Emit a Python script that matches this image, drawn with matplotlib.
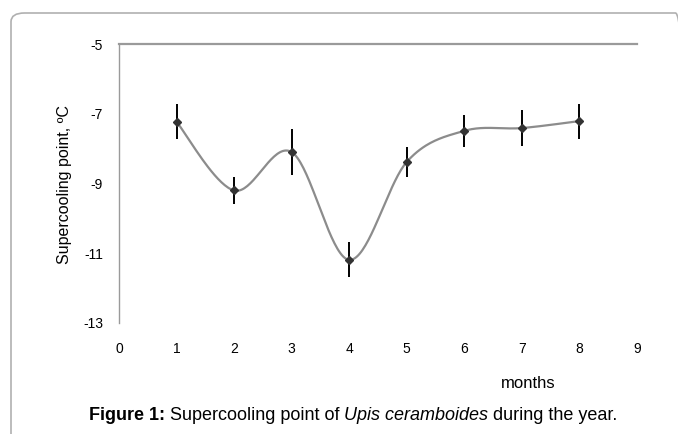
import numpy as np
import matplotlib
matplotlib.use('Agg')
import matplotlib.pyplot as plt
from matplotlib.patches import FancyBboxPatch

plt.rcParams['font.family'] = ['Liberation Sans', 'DejaVu Sans']
plt.rcParams['axes.unicode_minus'] = False

# data
months = [1, 2, 3, 4, 5, 6, 7, 8]
scp = [-7.23, -9.2, -8.1, -11.19, -8.38, -7.49, -7.41, -7.21]
scp_err = [0.5, 0.39, 0.67, 0.5, 0.44, 0.45, 0.52, 0.5]
xticks = list(range(0, 10))
yticks = [-13, -11, -9, -7, -5]


def smooth_curve(x, y, n=40):
    # Excel-like smoothed line (Bezier through the points, Catmull-Rom tangents)
    x = np.asarray(x, float)
    y = np.asarray(y, float)
    px = np.concatenate([[x[0]], x, [x[-1]]])
    py = np.concatenate([[y[0]], y, [y[-1]]])
    xs, ys = [], []
    t = np.linspace(0, 1, n)
    for i in range(len(x) - 1):
        p0 = np.array([px[i + 1], py[i + 1]])
        p3 = np.array([px[i + 2], py[i + 2]])
        c1 = p0 + (p3 - np.array([px[i], py[i]])) / 6
        c2 = p3 - (np.array([px[i + 3], py[i + 3]]) - p0) / 6
        b = ((1 - t) ** 3)[:, None] * p0 + (3 * (1 - t) ** 2 * t)[:, None] * c1 \
            + (3 * (1 - t) * t ** 2)[:, None] * c2 + (t ** 3)[:, None] * p3
        xs.extend(b[:, 0])
        ys.extend(b[:, 1])
    return np.array(xs), np.array(ys)


fig = plt.figure(figsize=(6.78, 4.34), dpi=100)

# page frame with rounded corner
frame = FancyBboxPatch((11 / 678, -0.2), 1.0, 1.2 - 13 / 434,
                       boxstyle="round,pad=0,rounding_size=0.02",
                       transform=fig.transFigure, fill=False,
                       edgecolor='#b0b0b0', linewidth=1.2, clip_on=False)
fig.patches.append(frame)

ax = fig.add_axes([119 / 678, 1 - 323 / 434, (637 - 119) / 678, (323 - 44) / 434])

sx, sy = smooth_curve(months, scp)
ax.plot(sx, sy, color='#8c8c8c', linewidth=1.6, zorder=2)
ax.errorbar(months, scp, yerr=scp_err, fmt='none', ecolor='black',
            elinewidth=1.4, capsize=0, zorder=3)
ax.plot(months, scp, linestyle='none', marker='D', markersize=4,
        color='#333333', zorder=4)

ax.set_xlim(0, 9)
ax.set_ylim(-13, -5)
ax.set_xticks(xticks)
ax.set_yticks(yticks)
ax.tick_params(axis='both', length=0, labelsize=10)
ax.tick_params(axis='y', pad=11.5)
ax.tick_params(axis='x', pad=14)

for s in ['right', 'bottom']:
    ax.spines[s].set_visible(False)
ax.spines['left'].set_color('#9a9a9a')
ax.spines['left'].set_linewidth(1.0)
ax.spines['top'].set_color('#9a9a9a')
ax.spines['top'].set_linewidth(1.6)

fig.text(65 / 678, 1 - 185 / 434, 'Supercooling point, ºC', rotation=90,
         ha='center', va='center', fontsize=11.5)
fig.text(528 / 678, 1 - 383 / 434, 'months', ha='center', va='center', fontsize=12)

# caption with mixed styles
fig.canvas.draw()
renderer = fig.canvas.get_renderer()
parts = [('Figure 1:', 'normal', 'bold'),
         (' Supercooling point of ', 'normal', 'normal'),
         ('Upis ceramboides', 'italic', 'normal'),
         (' during the year.', 'normal', 'normal')]
texts = []
for s, style, weight in parts:
    t = fig.text(0, 1 - 415 / 434, s, fontsize=13, style=style,
                 weight=weight, va='center', ha='left')
    texts.append(t)
widths = [t.get_window_extent(renderer).width for t in texts]
total = sum(widths)
x0 = 353 - total / 2
for t, w in zip(texts, widths):
    t.set_x(x0 / 678)
    x0 += w

fig.savefig('out.png', dpi=100)
